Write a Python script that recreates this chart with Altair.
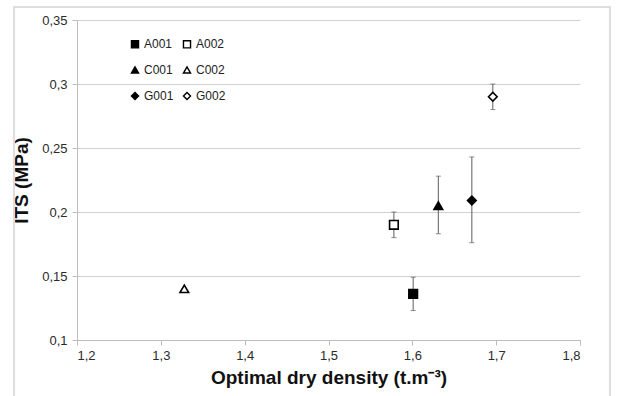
import altair as alt
import pandas as pd

series = ["A001", "A002", "C001", "C002", "G001", "G002"]
density = [1.601, 1.578, 1.631, 1.328, 1.671, 1.696]
its = [0.136, 0.190, 0.205, 0.140, 0.209, 0.290]
its_low = [0.123, 0.180, 0.183, 0.140, 0.176, 0.280]
its_high = [0.149, 0.200, 0.228, 0.140, 0.243, 0.300]

shapes = ["square", "square", "triangle-up", "triangle-up", "diamond", "diamond"]
fills = ["black", "white", "black", "white", "black", "white"]
strokes = ["black"] * 6

x_ticks = [1.2, 1.3, 1.4, 1.5, 1.6, 1.7, 1.8]
y_ticks = [0.1, 0.15, 0.2, 0.25, 0.3, 0.35]

df = pd.DataFrame({"series": series, "density": density, "its": its,
                   "low": its_low, "high": its_high})
df_err = df[df["low"] < df["high"]]

FONT = "Liberation Sans"

x_enc = alt.X("density:Q",
              scale=alt.Scale(domain=[1.2, 1.8], nice=False, zero=False),
              axis=alt.Axis(values=x_ticks, grid=False,
                            labelExpr="replace(format(datum.value, '.1f'), '.', ',')",
                            title="Optimal dry density (t.m⁻³)"))
y_scale = alt.Scale(domain=[0.1, 0.35], nice=False, zero=False)
y_axis = alt.Axis(values=y_ticks, grid=True,
                  labelExpr="replace(format(datum.value, '.2~f'), '.', ',')",
                  title="ITS (MPa)")

border = alt.Chart(pd.DataFrame({"a": [0]})).mark_rect(
    fill="transparent", stroke="#d4d4d4", strokeWidth=1.5
).encode(x=alt.value(-63), x2=alt.value(533), y=alt.value(-13), y2=alt.value(380))

rules = alt.Chart(df_err).mark_rule(color="#5e5e5e", strokeWidth=1).encode(
    x=x_enc,
    y=alt.Y("low:Q", scale=y_scale, axis=y_axis),
    y2="high:Q",
)
cap_lo = alt.Chart(df_err).mark_tick(color="#5e5e5e", orient="horizontal", size=5, thickness=1).encode(
    x="density:Q", y="low:Q")
cap_hi = alt.Chart(df_err).mark_tick(color="#5e5e5e", orient="horizontal", size=5, thickness=1).encode(
    x="density:Q", y="high:Q")


def leg():
    return alt.Legend(title=None, orient="none", legendX=52, legendY=18,
                      columns=2, direction="horizontal", columnPadding=6, rowPadding=13,
                      symbolSize=50, symbolStrokeWidth=1.4, labelFontSize=12,
                      labelFont=FONT, labelColor="#222222",
                      labelOffset=3, padding=0)


points = alt.Chart(df).mark_point(filled=True, size=75, strokeWidth=1.6, opacity=1).encode(
    x="density:Q",
    y="its:Q",
    shape=alt.Shape("series:N", scale=alt.Scale(domain=series, range=shapes), legend=leg()),
    fill=alt.Fill("series:N", scale=alt.Scale(domain=series, range=fills), legend=leg()),
    stroke=alt.Stroke("series:N", scale=alt.Scale(domain=series, range=strokes), legend=leg()),
)

chart = alt.layer(border, rules, cap_lo, cap_hi, points).properties(
    width=503, height=320,
    autosize=alt.AutoSizeParams(type="none"),
    padding={"left": 77, "top": 20, "right": 38, "bottom": 56},
    background="white",
).configure_view(stroke=None).configure_axis(
    labelFont=FONT, labelFontSize=13, labelColor="#2a2a2a",
    titleFont=FONT, titleFontSize=19, titleFontWeight="bold", titleColor="#111111",
    domainColor="#bdbdbd", tickColor="#bdbdbd", tickSize=5, gridColor="#d0d0d0",
).configure_axisX(labelPadding=4, titlePadding=6).configure_axisY(
    labelPadding=5, titlePadding=10)

chart.save("out.html", embed_options={"renderer": "svg", "actions": False})
